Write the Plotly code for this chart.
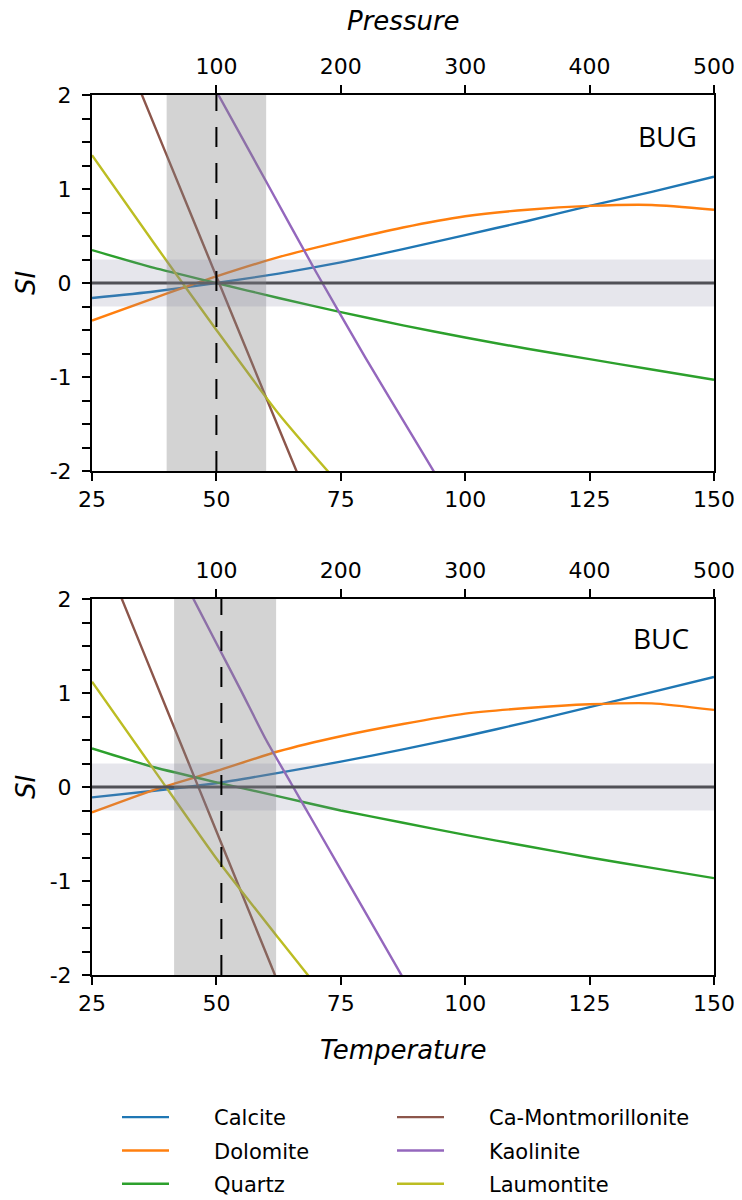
import plotly.graph_objects as go

# ---------------- data ----------------
T_RANGE = [25, 150]
P_RANGE = [0, 500]
SI_RANGE = [-2, 2]
T_TICKS = [25, 50, 75, 100, 125, 150]
P_TICKS = [100, 200, 300, 400, 500]
SI_TICKS = [-2, -1, 0, 1, 2]
SI_TICK_TEXT = ["-2", "-1", "0", "1", "2"]

minerals = ["Calcite", "Dolomite", "Quartz", "Ca-Montmorillonite", "Kaolinite", "Laumontite"]
colors = ["#1f77b4", "#ff7f0e", "#2ca02c", "#8c564b", "#9467bd", "#bcbd22"]

T_std = [25, 37.5, 50, 62.5, 75, 87.5, 100, 112.5, 125, 137.5, 150]

# BUG panel
bug_calcite = [-0.16, -0.09, 0.0, 0.10, 0.22, 0.36, 0.51, 0.66, 0.82, 0.97, 1.13]
bug_dolomite = [-0.40, -0.16, 0.07, 0.275, 0.44, 0.59, 0.71, 0.78, 0.82, 0.83, 0.78]
bug_quartz = [0.35, 0.16, 0.0, -0.16, -0.31, -0.45, -0.58, -0.70, -0.81, -0.92, -1.03]
bug_camont_T = [30, 40, 50, 60, 70]
bug_camont = [2.65, 1.36, 0.07, -1.22, -2.50]
bug_kaol_T = [50, 60, 70, 80, 90, 95]
bug_kaol = [2.04, 1.08, 0.12, -0.80, -1.68, -2.12]
bug_laum_T = [25, 37.5, 50, 62.5, 75]
bug_laum = [1.36, 0.42, -0.50, -1.39, -2.16]
bug_T_window = [40, 60]
bug_T_mark = 50

# BUC panel
buc_calcite = [-0.11, -0.04, 0.04, 0.15, 0.27, 0.40, 0.54, 0.69, 0.85, 1.01, 1.17]
buc_dolomite = [-0.27, -0.03, 0.17, 0.38, 0.54, 0.67, 0.78, 0.84, 0.88, 0.89, 0.82]
buc_quartz = [0.41, 0.21, 0.05, -0.10, -0.25, -0.38, -0.51, -0.63, -0.75, -0.86, -0.97]
buc_camont_T = [25, 35, 45, 55, 65]
buc_camont = [2.78, 1.48, 0.18, -1.12, -2.42]
buc_kaol_T = [45, 50, 55, 60, 65, 70, 80, 90]
buc_kaol = [2.04, 1.53, 1.02, 0.50, 0.04, -0.42, -1.34, -2.26]
buc_laum_T = [25, 37.5, 50, 62.5, 75]
buc_laum = [1.12, 0.18, -0.76, -1.61, -2.44]
buc_T_window = [41.5, 62]
buc_T_mark = 51

SI_window = [-0.25, 0.25]

panels = [
    dict(name="BUG", xa="x", pa="x2", ya="y",
         series=[(T_std, bug_calcite), (T_std, bug_dolomite), (T_std, bug_quartz),
                 (bug_camont_T, bug_camont), (bug_kaol_T, bug_kaol), (bug_laum_T, bug_laum)],
         window=bug_T_window, mark=bug_T_mark),
    dict(name="BUC", xa="x3", pa="x4", ya="y2",
         series=[(T_std, buc_calcite), (T_std, buc_dolomite), (T_std, buc_quartz),
                 (buc_camont_T, buc_camont), (buc_kaol_T, buc_kaol), (buc_laum_T, buc_laum)],
         window=buc_T_window, mark=buc_T_mark),
]

FONT = "DejaVu Sans"
PAD = "\u00a0" * 6
fig = go.Figure()

for pi, p in enumerate(panels):
    for i, (xs, ys) in enumerate(p["series"]):
        fig.add_trace(go.Scatter(
            x=xs, y=ys, mode="lines", name=PAD + minerals[i],
            line=dict(color=colors[i], width=2.4, shape="spline", smoothing=0.6),
            xaxis=p["xa"], yaxis=p["ya"],
            showlegend=(pi == 0),
            legend="legend" if i < 3 else "legend2",
            legendgroup=minerals[i],
        ))
    # invisible trace so that the pressure axis (top) is created
    fig.add_trace(go.Scatter(x=P_RANGE, y=[None, None], mode="lines", xaxis=p["pa"], yaxis=p["ya"],
                             showlegend=False, hoverinfo="skip"))

shapes = []
for p in panels:
    xr = p["xa"]
    yr = p["ya"]
    shapes.append(dict(type="line", xref=xr + " domain", yref=yr, x0=0, x1=1, y0=0, y1=0,
                       line=dict(color="#444444", width=3), layer="above"))
    shapes.append(dict(type="rect", xref=xr, yref=yr + " domain", x0=p["window"][0], x1=p["window"][1],
                       y0=0, y1=1, fillcolor="rgba(128,128,128,0.35)", line=dict(width=0), layer="above"))
    shapes.append(dict(type="rect", xref=xr + " domain", yref=yr, x0=0, x1=1,
                       y0=SI_window[0], y1=SI_window[1], fillcolor="rgba(130,130,160,0.2)",
                       line=dict(width=0), layer="above"))
    shapes.append(dict(type="line", xref=xr, yref=yr + " domain", x0=p["mark"], x1=p["mark"], y0=0, y1=1,
                       line=dict(color="black", width=2, dash="20px,16px"), layer="above"))

W, H = 742, 1200
xdom = [92 / W, 714 / W]
ydom_top = [1 - 471 / H, 1 - 95 / H]
ydom_bot = [1 - 975 / H, 1 - 599 / H]

tickfont = dict(family=FONT, size=22, color="black")
common = dict(showline=True, linecolor="black", linewidth=2, ticks="outside", ticklen=8,
              tickwidth=2, tickcolor="black", showgrid=False, zeroline=False, tickfont=tickfont,
              automargin=False)

def yax(dom):
    return dict(domain=dom, range=SI_RANGE, tickvals=SI_TICKS, ticktext=SI_TICK_TEXT, mirror=True,
                ticklabelstandoff=6,
                minor=dict(dtick=0.25, ticks="outside", ticklen=8, tickwidth=2, tickcolor="black"),
                **common)

def tax(anchor):
    return dict(domain=xdom, range=T_RANGE, tickvals=T_TICKS, anchor=anchor, **common)

def pax(overlay, anchor):
    return dict(domain=xdom, range=P_RANGE, tickvals=P_TICKS, overlaying=overlay, side="top",
                anchor=anchor, ticklabelstandoff=2, **common)

legend_common = dict(orientation="v", xanchor="left", yanchor="top", bgcolor="rgba(0,0,0,0)",
                     font=dict(family=FONT, size=21, color="black"), itemwidth=47,
                     tracegroupgap=3, borderwidth=0)

def ann(text, x, y, size=26, family=FONT, angle=0):
    return dict(text=text, xref="paper", yref="paper", x=x / W, y=1 - y / H, xanchor="center",
                yanchor="middle", textangle=angle, showarrow=False,
                font=dict(family=family, size=size, color="black"))

xmid = (92 + 714) / 2

fig.update_layout(
    width=W, height=H, margin=dict(l=0, r=0, t=0, b=0, autoexpand=False),
    paper_bgcolor="white", plot_bgcolor="white",
    xaxis=tax("y"), xaxis2=pax("x", "y"),
    xaxis3=tax("y2"), xaxis4=pax("x3", "y2"),
    yaxis=dict(anchor="x", **yax(ydom_top)),
    yaxis2=dict(anchor="x3", **yax(ydom_bot)),
    shapes=shapes,
    legend=dict(x=117 / W, y=1 - 1097 / H, **legend_common),
    legend2=dict(x=392 / W, y=1 - 1097 / H, **legend_common),
    annotations=[
        ann("<i>Pressure</i>", xmid, 21),
        ann("<i>Temperature</i>", xmid, 1050),
        ann("<i>SI</i>", 26, 283, angle=-90),
        ann("<i>SI</i>", 26, 787, angle=-90),
        ann("BUG", 667, 136, size=28, family="Open Sans"),
        ann("BUC", 661, 638, size=28, family="Open Sans"),
    ],
)

fig.write_html("out.html")
